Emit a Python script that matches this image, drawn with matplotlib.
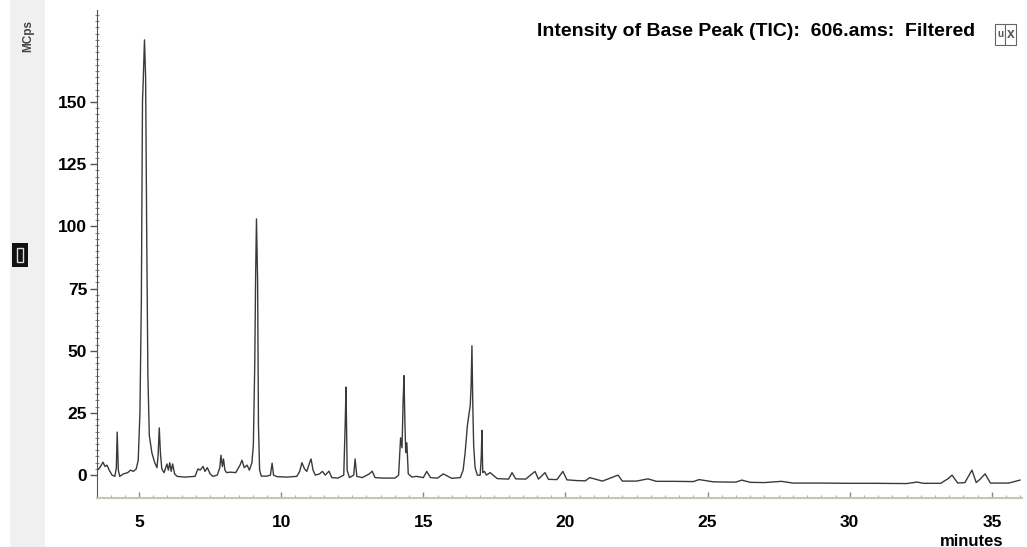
import numpy as np
import matplotlib.pyplot as plt
from matplotlib.patches import Rectangle

# Chromatogram trace: retention time (min) and intensity (MCps)
times = [3.52, 3.62, 3.73, 3.80, 3.87, 3.95, 4.05, 4.15, 4.20, 4.23, 4.27, 4.32,
         4.45, 4.60, 4.70, 4.80, 4.90, 4.97, 5.03, 5.08, 5.12, 5.15, 5.19, 5.23,
         5.27, 5.31, 5.36, 5.45, 5.55, 5.63, 5.67, 5.71, 5.75, 5.80, 5.88, 5.98,
         6.03, 6.08, 6.13, 6.18, 6.25, 6.34, 6.60, 6.97, 7.07, 7.15, 7.25, 7.32,
         7.40, 7.50, 7.60, 7.75, 7.84, 7.88, 7.93, 7.97, 8.02, 8.08, 8.20, 8.40,
         8.55, 8.62, 8.70, 8.80, 8.88, 8.97, 9.02, 9.07, 9.10, 9.13, 9.17, 9.20,
         9.24, 9.30, 9.50, 9.62, 9.68, 9.73, 9.85, 10.20, 10.55, 10.65, 10.73,
         10.82, 10.90, 11.00, 11.05, 11.12, 11.20, 11.35, 11.45, 11.55, 11.68,
         11.78, 12.00, 12.20, 12.25, 12.28, 12.32, 12.40, 12.55, 12.60, 12.66,
         12.85, 13.10, 13.20, 13.30, 13.60, 14.00, 14.13, 14.20, 14.25, 14.29,
         14.32, 14.35, 14.38, 14.42, 14.47, 14.60, 14.75, 15.00, 15.12, 15.25,
         15.50, 15.70, 16.00, 16.30, 16.40, 16.47, 16.55, 16.60, 16.65, 16.68,
         16.71, 16.74, 16.77, 16.82, 16.90, 17.00, 17.04, 17.06, 17.09, 17.15,
         17.22, 17.35, 17.60, 18.00, 18.12, 18.25, 18.60, 18.93, 19.05, 19.28,
         19.40, 19.70, 19.91, 20.05, 20.40, 20.70, 20.85, 21.30, 21.85, 22.00,
         22.50, 22.90, 23.20, 23.80, 24.50, 24.70, 25.20, 25.70, 26.00, 26.20,
         26.50, 27.00, 27.60, 28.00, 29.00, 30.00, 31.00, 32.00, 32.37, 32.60,
         33.20, 33.45, 33.60, 33.80, 34.05, 34.30, 34.45, 34.60, 34.76, 34.95,
         35.20, 35.60, 35.99]
intensity = [2.0, 3.0, 5.2, 3.5, 4.0, 2.0, 0.0, -0.5, 3.0, 17.3, 2.0, -0.5,
             0.5, 1.0, 2.0, 1.5, 2.5, 6.0, 25.0, 70.0, 150.0, 160.0, 175.0, 160.0,
             95.0, 40.0, 16.0, 9.0, 5.0, 3.0, 8.0, 19.0, 9.0, 2.5, 1.0, 4.5,
             2.0, 5.0, 1.5, 4.5, 0.5, -0.5, -0.8, -0.5, 2.5, 2.0, 3.5, 1.5,
             3.0, 0.5, -0.5, 0.0, 3.0, 8.0, 3.5, 6.5, 2.0, 1.0, 1.2, 1.0,
             4.0, 6.0, 3.0, 4.0, 2.0, 5.0, 12.0, 45.0, 80.0, 103.0, 78.0, 20.0,
             2.0, -0.4, -0.4, 0.0, 4.8, 0.0, -0.6, -0.8, -0.5, 1.5, 5.0,
             2.5, 1.5, 5.0, 6.5, 2.0, 0.0, 0.5, 1.5, 0.0, 1.6,
             -1.0, -1.2, 0.0, 20.0, 35.4, 2.0, -1.0, 0.0, 6.5, -0.5,
             -1.0, 0.5, 1.6, -1.0, -1.2, -1.2, 0.0, 15.0, 11.0, 30.0,
             40.0, 22.0, 9.0, 13.0, 0.5, -0.8, -0.5, -1.0, 1.5, -1.0,
             -1.2, 0.5, -1.3, -1.0, 2.0, 9.0, 20.0, 24.0, 28.0, 36.0,
             52.0, 28.0, 12.0, 3.0, 0.0, 0.0, 8.0, 18.0, 1.0, 1.5,
             0.0, 1.0, -1.4, -1.6, 1.0, -1.5, -1.6, 1.5, -1.6, 1.0,
             -1.7, -1.8, 1.5, -1.9, -2.2, -2.3, -1.0, -2.4, 0.0, -2.4,
             -2.4, -1.5, -2.5, -2.5, -2.6, -1.8, -2.7, -2.8, -2.8, -2.0,
             -2.9, -3.0, -2.5, -3.2, -3.2, -3.3, -3.3, -3.4, -2.8, -3.3,
             -3.3, -1.5, 0.0, -3.2, -3.0, 2.0, -3.0, -1.5, 0.5, -3.2,
             -3.2, -3.2, -2.0]

y_ticks = [0, 25, 50, 75, 100, 125, 150]
x_ticks = [5, 10, 15, 20, 25, 30, 35]
title_text = "Intensity of Base Peak (TIC):  606.ams:  Filtered"

plt.rcParams['font.family'] = ['Liberation Sans', 'DejaVu Sans']
plt.rcParams['font.weight'] = 'bold'

W, H = 1027, 547
fig = plt.figure(figsize=(W / 100, H / 100), dpi=100)

# faint grey strip down the left edge of the scan
fig.patches.append(Rectangle((10 / W, 0), 35 / W, 1, transform=fig.transFigure,
                             facecolor='#f0f0f0', edgecolor='none', zorder=0))

ax = fig.add_axes([97 / W, 1 - 498 / H, 925 / W, 488 / H])
ax.plot(times, intensity, color='#3a3a3a', lw=1.0)

ax.set_xlim(3.52, 36.06)
ax.set_ylim(-9.2, 187)
ax.set_yticks(y_ticks)
ax.set_yticks(np.arange(0, 187, 2.5), minor=True)
ax.set_xticks(x_ticks)
ax.set_xticks(np.arange(4, 36.1, 0.5), minor=True)

for s in ['top', 'right']:
    ax.spines[s].set_visible(False)
ax.spines['left'].set_color('#555555')
ax.spines['bottom'].set_color('#c8c4b8')
ax.spines['bottom'].set_linewidth(1.5)

ax.tick_params(axis='y', which='major', direction='out', length=5, width=1,
               color='#555555', pad=2, labelsize=12.5)
ax.tick_params(axis='y', which='minor', direction='inout', length=3, width=0.8,
               color='#888888')
ax.tick_params(axis='x', which='major', direction='in', length=4, width=1,
               color='#888888', pad=12, labelsize=12.5)
ax.tick_params(axis='x', which='minor', direction='in', length=2, width=0.8,
               color='#aaaaaa')
for lab in ax.get_xticklabels() + ax.get_yticklabels():
    lab.set_fontweight('bold')

fig.text(537 / W, 1 - 31 / H, title_text, fontsize=14, fontweight='bold',
         ha='left', va='center')
fig.text(28 / W, 1 - 36 / H, "MCps", fontsize=8.5, fontweight='bold',
         rotation=90, ha='center', va='center', color='#444444')
fig.text(972 / W, 1 - 541 / H, "minutes", fontsize=12, fontweight='bold',
         ha='center', va='center')

# small legend icon box at top right
fig.patches.append(Rectangle((995 / W, 1 - 45 / H), 10 / W, 21 / H, transform=fig.transFigure,
                             facecolor='white', edgecolor='#666666', lw=0.8))
fig.patches.append(Rectangle((1005 / W, 1 - 45 / H), 11 / W, 21 / H, transform=fig.transFigure,
                             facecolor='white', edgecolor='#666666', lw=0.8))
fig.text(1000 / W, 1 - 34 / H, "u", fontsize=7, ha='center', va='center', color='#555555')
fig.text(1010.5 / W, 1 - 34 / H, "x", fontsize=10, ha='center', va='center', color='#555555')

# black marker box on the left margin
fig.patches.append(Rectangle((12 / W, 1 - 267 / H), 16 / W, 24 / H, transform=fig.transFigure,
                             facecolor='#111111', edgecolor='none'))
fig.patches.append(Rectangle((17 / W, 1 - 262 / H), 6 / W, 14 / H, transform=fig.transFigure,
                             facecolor='none', edgecolor='#dddddd', lw=1))

fig.savefig("out.png", dpi=100)
